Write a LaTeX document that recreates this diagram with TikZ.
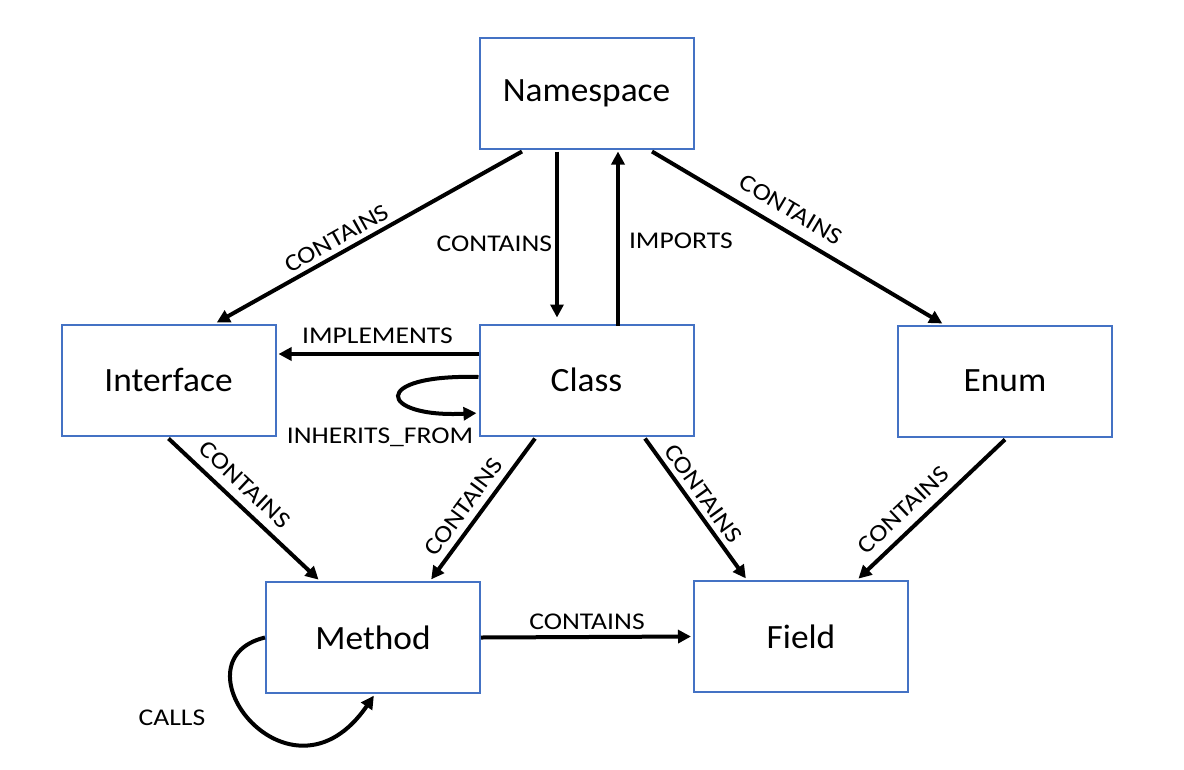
\documentclass[tikz,border=0pt]{standalone}
\usepackage{fontspec}
\setmainfont{Carlito}
\newfontfamily\boxfont{Carlito}[FakeStretch=1.04]
\newfontfamily\labelfont{Carlito}[FakeStretch=1.15]
\usepackage{tikz}
\usetikzlibrary{arrows.meta,positioning}
\usepackage{xcolor}
\definecolor{boxblue}{HTML}{4472C4}

\tikzset{
  entity/.style={draw=boxblue,line width=2pt,fill=white,minimum width=214pt,minimum height=111pt,inner sep=0pt,font=\boxfont\fontsize{34}{40}\selectfont},
  rel/.style={line width=4pt,-{Triangle[length=13pt,width=13pt]},shorten >=2pt},
  relname/.style={font=\labelfont\fontsize{24}{29}\selectfont,inner sep=3pt}
}

\begin{document}
\begin{tikzpicture}[x=1pt,y=-1pt]
\useasboundingbox (0.000000,0.000000) rectangle (1184.000000,769.000000);
% Drawing boxes
\node[entity] (ns) at (586.500000,93.000000) {Namespace};
\node[entity] (iface) at (168.500000,380.000000) {Interface};
\node[entity] (cls) at (586.500000,380.000000) {Class};
\node[entity] (enum) at (1005.000000,381.000000) {Enum};
\node[entity] (meth) at (373.000000,637.500000) {Method};
\node[entity] (fld) at (801.000000,636.500000) {Field};
% Done with boxes; drawing edges from Namespace
\draw[rel] ([xshift=-64.5pt,yshift=-2pt]ns.south) -- ([xshift=46.5pt]iface.north)
  node[relname,sloped,above=2pt,pos=0.58] {CONTAINS};
\draw[rel] ([xshift=-29.5pt,yshift=-2pt]ns.south) -- ([xshift=-29.5pt,yshift=4pt]cls.north)
  node[relname,left,pos=0.55] {CONTAINS};
\draw[rel] ([xshift=31.5pt,yshift=-2pt]cls.north) -- ([xshift=31.5pt]ns.south)
  node[relname,right=6pt,pos=0.48] {IMPORTS};
\draw[rel] ([xshift=65.5pt,yshift=-2pt]ns.south) -- ([xshift=-61pt]enum.north)
  node[relname,sloped,above=8pt,pos=0.44] {CONTAINS};
% Edges from Class
\draw[rel] ([yshift=26pt]cls.west) -- ([yshift=26pt]iface.east)
  node[relname,above=5pt,pos=0.5] {IMPLEMENTS};
\draw[rel] ([yshift=3pt]cls.west) .. controls +(-110,-3) and +(-100,5) .. ([yshift=-33pt]cls.west);
\node[relname] (inh) at (380.000000,437.000000) {INHERITS\_FROM};
\draw[rel] ([xshift=-51.5pt,yshift=-2pt]cls.south) -- ([xshift=57pt]meth.north)
  node[relname,sloped,above=4pt,pos=0.55] {CONTAINS};
\draw[rel] ([xshift=58.5pt,yshift=-2pt]cls.south) -- ([xshift=-54pt]fld.north)
  node[relname,sloped,above=2pt,pos=0.45] {CONTAINS};
% Edges from Interface, Enum and Method
\draw[rel] ([yshift=-2pt]iface.south) -- ([xshift=-53pt]meth.north)
  node[relname,sloped,above=6pt,pos=0.42] {CONTAINS};
\draw[rel] ([yshift=-2pt]enum.south) -- ([xshift=56pt]fld.north)
  node[relname,sloped,above=6pt,pos=0.6] {CONTAINS};
\draw[rel] (meth.east) -- (fld.west)
  node[relname,above=2pt,pos=0.5] {CONTAINS};
\draw[rel] (meth.west) .. controls +(-95,23) and +(-85,124) .. ([xshift=2pt]meth.south);
\node[relname] (calls) at (172.000000,718.000000) {CALLS};
% Done with edges
\end{tikzpicture}
\end{document}
